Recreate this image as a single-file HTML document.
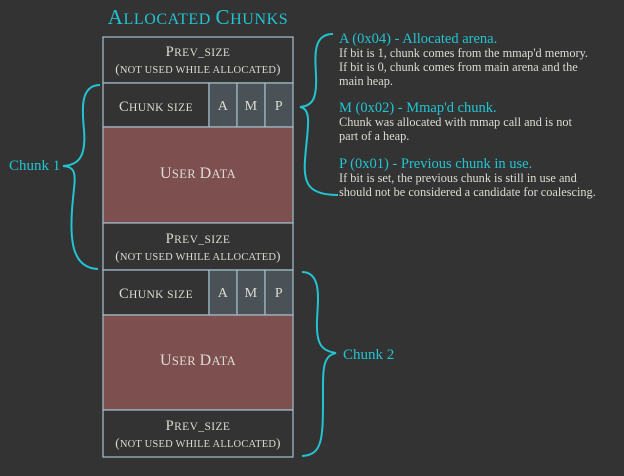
<!DOCTYPE html>
<html><head><meta charset="utf-8"><style>
body{margin:0;background:#333333;width:624px;height:476px;overflow:hidden;font-family:"Liberation Serif",serif;}
svg{display:block}
.sc{fill:#dcdcd2}
.cy{fill:#22c4d2}
.tx{fill:#dcdcd2;font-size:12.3px}
</style></head><body>
<svg width="624" height="476">
<rect width="624" height="476" fill="#333333"/>
<text x="198" y="24" text-anchor="middle" class="cy" font-size="16" letter-spacing="0.6"><tspan font-size="21">A</tspan>LLOCATED <tspan font-size="21">C</tspan>HUNKS</text>
<g stroke="#9fb7c2" stroke-width="1.3">
 <rect x="103" y="37" width="190" height="46" fill="#333333"/>
 <rect x="103" y="83" width="106" height="44" fill="#333333"/>
 <rect x="209" y="83" width="28" height="44" fill="#4a5257"/>
 <rect x="237" y="83" width="28" height="44" fill="#4a5257"/>
 <rect x="265" y="83" width="28" height="44" fill="#4a5257"/>
 <rect x="103" y="127" width="190" height="96" fill="#7d4f4f"/>
 <rect x="103" y="223" width="190" height="47" fill="#333333"/>
 <rect x="103" y="270" width="106" height="45" fill="#333333"/>
 <rect x="209" y="270" width="28" height="45" fill="#4a5257"/>
 <rect x="237" y="270" width="28" height="45" fill="#4a5257"/>
 <rect x="265" y="270" width="28" height="45" fill="#4a5257"/>
 <rect x="103" y="315" width="190" height="95" fill="#7d4f4f"/>
 <rect x="103" y="410" width="190" height="47" fill="#333333"/>
</g>
<g class="sc" text-anchor="middle" font-size="11.5" letter-spacing="0.4">
 <text x="198" y="56"><tspan font-size="14.5">P</tspan>REV_SIZE</text>
 <text x="198" y="73" font-size="10.5" letter-spacing="0.2"><tspan font-size="13">(</tspan>NOT USED WHILE ALLOCATED<tspan font-size="13">)</tspan></text>
 <text x="156" y="111"><tspan font-size="14.5">C</tspan>HUNK SIZE</text>
 <text x="223" y="110" font-size="14">A</text><text x="251" y="110" font-size="14">M</text><text x="279" y="110" font-size="14">P</text>
 <text x="198" y="178" font-size="12.5"><tspan font-size="16">U</tspan>SER <tspan font-size="16">D</tspan>ATA</text>
 <text x="198" y="243"><tspan font-size="14.5">P</tspan>REV_SIZE</text>
 <text x="198" y="260" font-size="10.5" letter-spacing="0.2"><tspan font-size="13">(</tspan>NOT USED WHILE ALLOCATED<tspan font-size="13">)</tspan></text>
 <text x="156" y="298"><tspan font-size="14.5">C</tspan>HUNK SIZE</text>
 <text x="223" y="297" font-size="14">A</text><text x="251" y="297" font-size="14">M</text><text x="279" y="297" font-size="14">P</text>
 <text x="198" y="365" font-size="12.5"><tspan font-size="16">U</tspan>SER <tspan font-size="16">D</tspan>ATA</text>
 <text x="198" y="430"><tspan font-size="14.5">P</tspan>REV_SIZE</text>
 <text x="198" y="447" font-size="10.5" letter-spacing="0.2"><tspan font-size="13">(</tspan>NOT USED WHILE ALLOCATED<tspan font-size="13">)</tspan></text>
</g>
<g fill="none" stroke="#22c4d2" stroke-width="2">
 <path d="M100,85 C80,85 82,110 84,130 C86,155 80,165 63,166 C80,167 74,180 72,210 C70,240 72,268 98,269"/>
 <path d="M333,34 C313,34 315,55 316,75 C317,98 313,106 300,107 C313,109 307,130 305,160 C303,185 310,195 338,195"/>
 <path d="M302,272 C322,272 318,300 317,320 C316,345 322,351 336,353 C322,356 323,370 323,400 C323,440 322,455 302,456"/>
</g>
<text x="9" y="170" class="cy" font-size="15">Chunk 1</text>
<text x="343" y="359" class="cy" font-size="15">Chunk 2</text>
<g>
 <text x="339" y="43" class="cy" font-size="14.5">A (0x04) - Allocated arena.</text>
 <text x="339" y="57" class="tx">If bit is 1, chunk comes from the mmap'd memory.</text>
 <text x="339" y="71" class="tx">If bit is 0, chunk comes from main arena and the</text>
 <text x="339" y="85" class="tx">main heap.</text>
 <text x="339" y="112" class="cy" font-size="14.5">M (0x02) - Mmap'd chunk.</text>
 <text x="339" y="126" class="tx">Chunk was allocated with mmap call and is not</text>
 <text x="339" y="140" class="tx">part of a heap.</text>
 <text x="339" y="168" class="cy" font-size="14.5">P (0x01) - Previous chunk in use.</text>
 <text x="339" y="182" class="tx">If bit is set, the previous chunk is still in use and</text>
 <text x="339" y="196" class="tx">should not be considered a candidate for coalescing.</text>
</g>
</svg>
</body></html>
